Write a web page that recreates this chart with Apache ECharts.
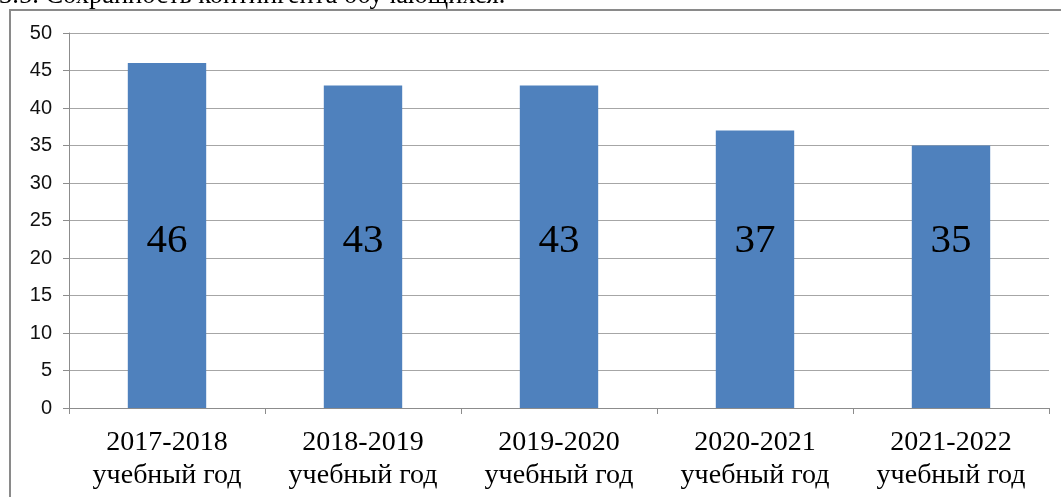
<!DOCTYPE html>
<html>
<head>
<meta charset="utf-8">
<script src="https://cdn.jsdelivr.net/npm/echarts@6/dist/echarts.min.js"></script>
<style>html,body{margin:0;padding:0;background:#fff}#c{width:1061px;height:497px}</style>
</head>
<body>
<div id="c"></div>
<script>
const categories = ["2017-2018\nучебный год", "2018-2019\nучебный год", "2019-2020\nучебный год", "2020-2021\nучебный год", "2021-2022\nучебный год"];
const values = [46, 43, 43, 37, 35];
const yTicks = [0, 5, 10, 15, 20, 25, 30, 35, 40, 45, 50];
const titleText = "3.5. Сохранность контингента обучающихся.";

const chart = echarts.init(document.getElementById('c'));
chart.setOption({
  animation: false,
  backgroundColor: '#fff',
  graphic: [
    { type: 'rect', shape: { x: 10, y: 10, width: 1100, height: 600 }, style: { fill: 'none', stroke: '#8a8a8a', lineWidth: 2 } },
    { type: 'text', x: -1, y: 10, style: { text: titleText, font: '26.5px "Liberation Serif", serif', fill: '#000', verticalAlign: 'bottom' } }
  ],
  grid: { left: 69, right: 12, top: 33, bottom: 89 },
  xAxis: {
    type: 'category',
    data: categories,
    axisLine: { lineStyle: { color: '#8c8c8c', width: 1 } },
    axisTick: { show: true, length: 6, lineStyle: { color: '#8c8c8c' } },
    axisLabel: { interval: 0, color: '#000', fontFamily: '"Liberation Serif", serif', fontSize: 28, lineHeight: 33, margin: 18 }
  },
  yAxis: {
    type: 'value',
    min: yTicks[0], max: yTicks[yTicks.length - 1], interval: 5,
    axisLine: { show: true, lineStyle: { color: '#8c8c8c' } },
    axisTick: { show: true, length: 6, lineStyle: { color: '#8c8c8c' } },
    splitLine: { lineStyle: { color: '#a6a6a6' } },
    axisLabel: { color: '#111', fontFamily: '"Liberation Sans", sans-serif', fontSize: 20, margin: 17 }
  },
  series: [{
    type: 'bar',
    data: values,
    barWidth: '40%',
    itemStyle: { color: '#4f81bd' },
    label: { show: true, position: 'insideBottom', distance: 146, color: '#000', fontFamily: '"Liberation Serif", serif', fontSize: 41 }
  }]
});
</script>
</body>
</html>
